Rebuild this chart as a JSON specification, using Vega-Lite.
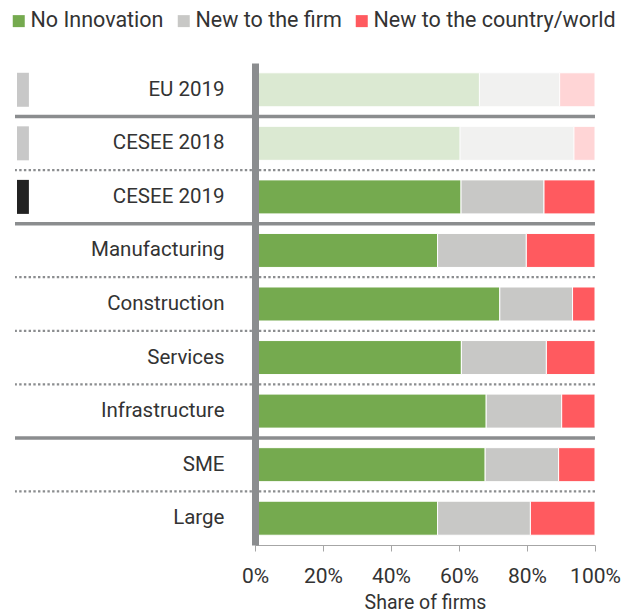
{
  "$schema": "https://vega.github.io/schema/vega-lite/v6.json",
  "width": 580,
  "height": 482,
  "padding": {"left": 8, "top": 10, "right": 0, "bottom": 0},
  "autosize": {"type": "pad"},
  "background": "white",
  "config": {
    "font": "Roboto",
    "view": {"stroke": null},
    "axis": {"labelColor": "#333333", "titleColor": "#333333"}
  },
  "datasets": {
    "shares": [
      {"group": "EU 2019", "type": "No Innovation", "share": 66.0},
      {"group": "EU 2019", "type": "New to the firm", "share": 23.6},
      {"group": "EU 2019", "type": "New to the country/world", "share": 10.4},
      {"group": "CESEE 2018", "type": "No Innovation", "share": 60.3},
      {"group": "CESEE 2018", "type": "New to the firm", "share": 33.5},
      {"group": "CESEE 2018", "type": "New to the country/world", "share": 6.2},
      {"group": "CESEE 2019", "type": "No Innovation", "share": 60.6},
      {"group": "CESEE 2019", "type": "New to the firm", "share": 24.4},
      {"group": "CESEE 2019", "type": "New to the country/world", "share": 15.0},
      {"group": "Manufacturing", "type": "No Innovation", "share": 53.7},
      {"group": "Manufacturing", "type": "New to the firm", "share": 26.1},
      {"group": "Manufacturing", "type": "New to the country/world", "share": 20.2},
      {"group": "Construction", "type": "No Innovation", "share": 72.0},
      {"group": "Construction", "type": "New to the firm", "share": 21.4},
      {"group": "Construction", "type": "New to the country/world", "share": 6.6},
      {"group": "Services", "type": "No Innovation", "share": 60.7},
      {"group": "Services", "type": "New to the firm", "share": 25.0},
      {"group": "Services", "type": "New to the country/world", "share": 14.3},
      {"group": "Infrastructure", "type": "No Innovation", "share": 68.0},
      {"group": "Infrastructure", "type": "New to the firm", "share": 22.2},
      {"group": "Infrastructure", "type": "New to the country/world", "share": 9.8},
      {"group": "SME", "type": "No Innovation", "share": 67.7},
      {"group": "SME", "type": "New to the firm", "share": 21.6},
      {"group": "SME", "type": "New to the country/world", "share": 10.7},
      {"group": "Large", "type": "No Innovation", "share": 53.7},
      {"group": "Large", "type": "New to the firm", "share": 27.3},
      {"group": "Large", "type": "New to the country/world", "share": 19.0}
    ],
    "separators": [
      {"after": "EU 2019", "line": "solid"},
      {"after": "CESEE 2018", "line": "dotted"},
      {"after": "CESEE 2019", "line": "solid"},
      {"after": "Manufacturing", "line": "dotted"},
      {"after": "Construction", "line": "dotted"},
      {"after": "Services", "line": "dotted"},
      {"after": "Infrastructure", "line": "solid"},
      {"after": "SME", "line": "dotted"}
    ],
    "markers": [
      {"group": "EU 2019", "kind": "comparison"},
      {"group": "CESEE 2018", "kind": "comparison"},
      {"group": "CESEE 2019", "kind": "current"}
    ]
  },
  "layer": [
    {
      "data": {"name": "shares"},
      "mark": {"type": "bar", "height": {"band": 0.635}, "stroke": "white", "strokeWidth": 1},
      "encoding": {
        "y": {
          "field": "group", "type": "nominal",
          "scale": {"domain": ["EU 2019", "CESEE 2018", "CESEE 2019", "Manufacturing", "Construction", "Services", "Infrastructure", "SME", "Large"], "paddingInner": 0, "paddingOuter": 0},
          "axis": {
            "title": null, "orient": "left", "offset": -240, "zindex": 1,
            "domain": true, "domainColor": "#8b8d8f", "domainWidth": 7,
            "ticks": false, "tickSize": 0, "labelPadding": 31,
            "labelFontSize": 20.5, "labelColor": "#333333", "labelLimit": 300
          }
        },
        "x": {
          "field": "share", "type": "quantitative", "stack": "zero",
          "scale": {"domain": [0, 100], "range": [240, 580], "nice": false},
          "axis": {
            "title": "Share of firms", "titleFontSize": 19.5, "titleFontWeight": "normal", "titlePadding": 7,
            "values": [0, 20, 40, 60, 80, 100], "labelExpr": "datum.value + '%'",
            "labelFontSize": 21, "labelPadding": 14, "labelFlush": false, "grid": false,
            "domainColor": "#a6a6a6", "tickColor": "#a6a6a6", "tickSize": 6
          }
        },
        "color": {
          "field": "type", "type": "nominal",
          "scale": {"domain": ["No Innovation", "New to the firm", "New to the country/world"], "range": ["#75aa4f", "#c8c8c6", "#ff5a5f"]},
          "legend": {
            "orient": "none", "legendX": -7, "legendY": -53, "direction": "horizontal",
            "title": null, "symbolType": "square", "symbolSize": 144, "symbolStrokeWidth": 0,
            "labelFontSize": 21.5, "labelColor": "#333333", "labelOffset": 1, "columnPadding": 9,
            "padding": 0, "labelLimit": 400
          }
        },
        "order": {"field": "type", "sort": "descending"},
        "opacity": {
          "condition": {"test": "datum.group === 'EU 2019' || datum.group === 'CESEE 2018'", "value": 0.25},
          "value": 1
        }
      }
    },
    {
      "data": {"name": "separators"},
      "transform": [{"filter": "datum.line === 'solid'"}],
      "mark": {"type": "rule", "color": "#8b8d8f", "strokeWidth": 3.5},
      "encoding": {
        "y": {"field": "after", "type": "nominal", "bandPosition": 1}
      }
    },
    {
      "data": {"name": "separators"},
      "transform": [{"filter": "datum.line === 'dotted'"}],
      "mark": {"type": "rule", "color": "#8b8d8f", "strokeWidth": 2.2, "strokeDash": [2.4, 2.3]},
      "encoding": {
        "y": {"field": "after", "type": "nominal", "bandPosition": 1}
      }
    },
    {
      "data": {"name": "markers"},
      "mark": {"type": "bar", "height": {"band": 0.635}},
      "encoding": {
        "y": {"field": "group", "type": "nominal"},
        "x": {"datum": -70, "type": "quantitative"},
        "x2": {"datum": -66.5},
        "color": {
          "condition": {"test": "datum.kind === 'current'", "value": "#222222"},
          "value": "#c8c8c8"
        }
      }
    }
  ]
}
